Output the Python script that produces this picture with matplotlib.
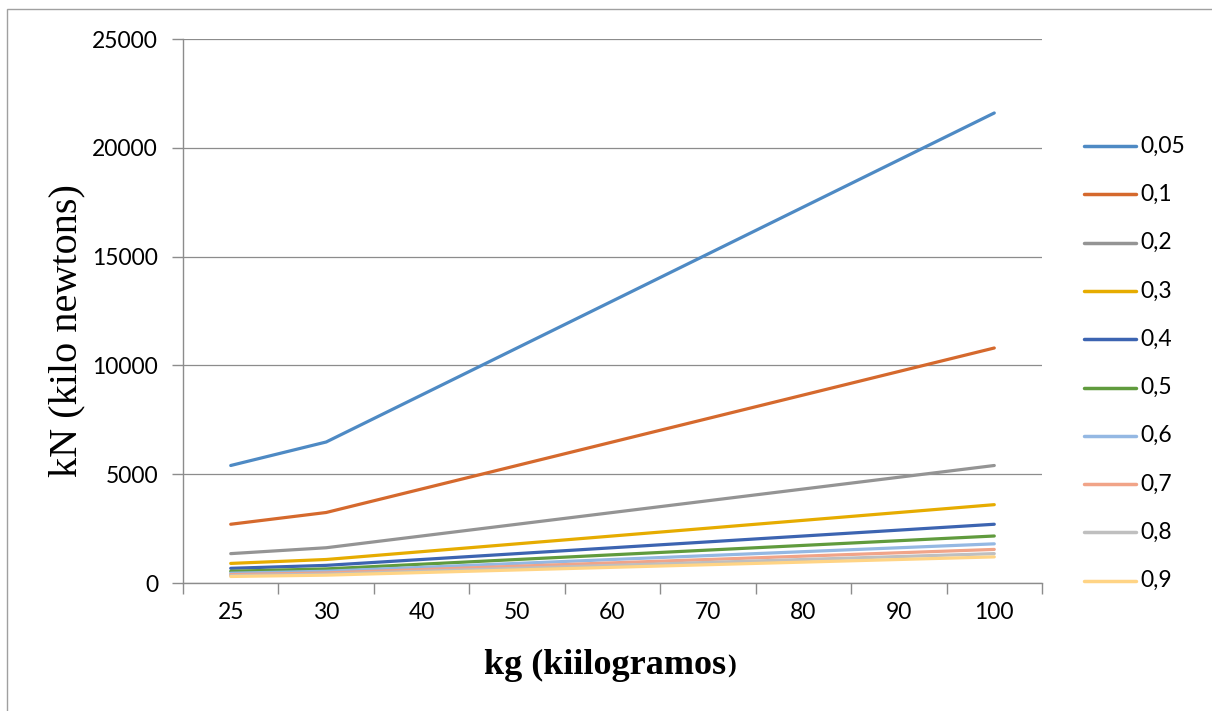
import matplotlib
matplotlib.use("Agg")
import matplotlib.pyplot as plt
from matplotlib.patches import Rectangle

categories = ["25", "30", "40", "50", "60", "70", "80", "90", "100"]
series_names = ["0,05", "0,1", "0,2", "0,3", "0,4", "0,5", "0,6", "0,7", "0,8", "0,9"]
s005 = [5400, 6480, 8640, 10800, 12960, 15120, 17280, 19440, 21600]
s01 = [2700, 3240, 4320, 5400, 6480, 7560, 8640, 9720, 10800]
s02 = [1350, 1620, 2160, 2700, 3240, 3780, 4320, 4860, 5400]
s03 = [900, 1080, 1440, 1800, 2160, 2520, 2880, 3240, 3600]
s04 = [675, 810, 1080, 1350, 1620, 1890, 2160, 2430, 2700]
s05 = [540, 648, 864, 1080, 1296, 1512, 1728, 1944, 2160]
s06 = [450, 540, 720, 900, 1080, 1260, 1440, 1620, 1800]
s07 = [386, 463, 617, 771, 926, 1080, 1234, 1389, 1543]
s08 = [338, 405, 540, 675, 810, 945, 1080, 1215, 1350]
s09 = [300, 360, 480, 600, 720, 840, 960, 1080, 1200]
all_series = [s005, s01, s02, s03, s04, s05, s06, s07, s08, s09]
colors = ["#4E8AC4", "#D5692D", "#949494", "#E6AC00", "#3C64B1",
          "#609B3D", "#94B8E3", "#F1A488", "#BFBFBF", "#FFD485"]
y_ticks = [0, 5000, 10000, 15000, 20000, 25000]

W, H = 1212, 711
fig = plt.figure(figsize=(W / 100, H / 100), dpi=100)
ax = fig.add_axes([183 / W, 1 - 583 / H, (1042 - 183) / W, (583 - 39) / H])

x = list(range(len(categories)))
for vals, c, name in zip(all_series, colors, series_names):
    ax.plot(x, vals, color=c, lw=2.3, label=name, solid_capstyle="round")

grid_c = "#8C8C8C"
ax.set_xlim(-0.5, len(categories) - 0.5)
ax.set_ylim(0, 25000)
ax.set_yticks(y_ticks)
ax.set_yticklabels([str(v) for v in y_ticks])
ax.yaxis.grid(True, color=grid_c, lw=0.9)
ax.set_axisbelow(True)
ax.set_xticks([i - 0.5 for i in range(len(categories) + 1)])
ax.set_xticklabels([])
ax.set_xticks(x, minor=True)
ax.set_xticklabels(categories, minor=True)
ax.tick_params(axis="x", which="major", length=8, width=1, color=grid_c, direction="out")
ax.tick_params(axis="x", which="minor", length=0, pad=14, labelsize=16.5)
ax.tick_params(axis="y", length=8, width=1, color=grid_c, direction="out", pad=10, labelsize=16.5)
for lbl in ax.get_xticklabels(minor=True) + ax.get_yticklabels():
    lbl.set_fontfamily("Lato")
for side in ["top", "right"]:
    ax.spines[side].set_visible(False)
for side in ["left", "bottom"]:
    ax.spines[side].set_color(grid_c)
    ax.spines[side].set_linewidth(1)

xl = fig.text(484 / W, 1 - 665 / H, "kg (kiilogramos", fontfamily="Liberation Serif",
              fontweight="bold", fontsize=26, ha="left", va="center")
fig.text(0, 0, ")", fontfamily="Liberation Serif", fontweight="bold", fontsize=19,
         ha="left", va="baseline",
         transform=matplotlib.transforms.offset_copy(fig.transFigure, fig=fig))
# place ")" right after main label
fig.canvas.draw()
bb = xl.get_window_extent()
fig.texts[-1].set_position((bb.x1 / W + 1 / W, (bb.y0 + 9) / H))
fig.text(67 / W, 1 - 331 / H, "kN (kilo newtons)", fontfamily="Liberation Serif",
         fontsize=29, rotation=90, ha="center", va="center")

# legend drawn manually
for i, (c, name) in enumerate(zip(colors, series_names)):
    yy = 1 - (146 + i * 48.3) / H
    fig.add_artist(plt.Line2D([1084 / W, 1136 / W], [yy, yy], color=c, lw=2.5,
                              solid_capstyle="round", transform=fig.transFigure))
    fig.text(1140 / W, yy, name, fontfamily="Lato", fontsize=16.5, ha="left", va="center")

fig.add_artist(Rectangle((7 / W, -0.1), 1.2, 1 - 9 / H + 0.1, transform=fig.transFigure,
                         fill=False, edgecolor="#A0A0A0", lw=1))

fig.savefig("out.png", dpi=100)
